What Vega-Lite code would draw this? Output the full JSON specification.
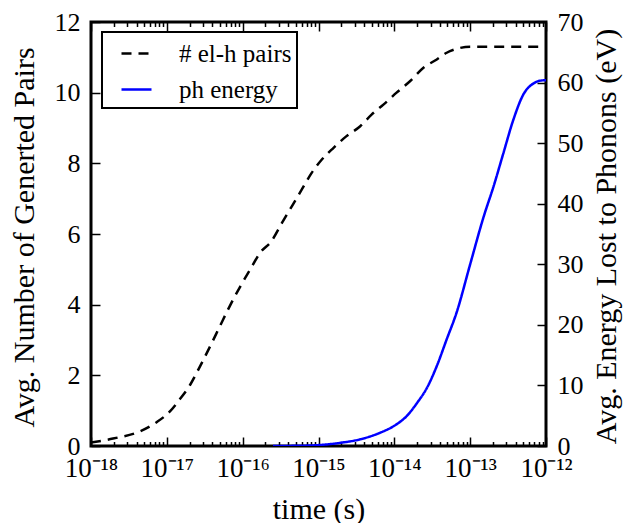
{
  "$schema": "https://vega.github.io/schema/vega-lite/v6.json",
  "width": 455,
  "height": 424,
  "autosize": {"type": "none"},
  "padding": {"left": 91, "top": 22, "right": 80, "bottom": 77},
  "background": "white",
  "config": {
    "view": {"stroke": "black", "strokeWidth": 3},
    "font": "Liberation Serif",
    "axis": {
      "domain": false,
      "grid": false,
      "tickColor": "black",
      "tickWidth": 1.5,
      "labelFont": "Liberation Serif",
      "labelFontSize": 26,
      "labelColor": "black",
      "titleFont": "Liberation Serif",
      "titleFontSize": 30,
      "titleFontWeight": "normal",
      "titleColor": "black",
      "labelOverlap": false,
      "labelFlush": false
    },
    "legend": {
      "labelFont": "Liberation Serif",
      "labelFontSize": 24,
      "labelColor": "black"
    }
  },
  "data": {
    "values": [
      {"t": 1e-18, "value": 0.1, "series": "# el-h pairs"},
      {"t": 1.95e-18, "value": 0.21, "series": "# el-h pairs"},
      {"t": 4.47e-18, "value": 0.42, "series": "# el-h pairs"},
      {"t": 7.41e-18, "value": 0.68, "series": "# el-h pairs"},
      {"t": 1.1e-17, "value": 0.98, "series": "# el-h pairs"},
      {"t": 1.48e-17, "value": 1.32, "series": "# el-h pairs"},
      {"t": 2.04e-17, "value": 1.74, "series": "# el-h pairs"},
      {"t": 2.75e-17, "value": 2.26, "series": "# el-h pairs"},
      {"t": 3.72e-17, "value": 2.82, "series": "# el-h pairs"},
      {"t": 5.01e-17, "value": 3.39, "series": "# el-h pairs"},
      {"t": 6.76e-17, "value": 3.96, "series": "# el-h pairs"},
      {"t": 9.33e-17, "value": 4.52, "series": "# el-h pairs"},
      {"t": 1.26e-16, "value": 5.0, "series": "# el-h pairs"},
      {"t": 1.7e-16, "value": 5.47, "series": "# el-h pairs"},
      {"t": 2.4e-16, "value": 5.8, "series": "# el-h pairs"},
      {"t": 3.31e-16, "value": 6.32, "series": "# el-h pairs"},
      {"t": 4.47e-16, "value": 6.79, "series": "# el-h pairs"},
      {"t": 6.03e-16, "value": 7.26, "series": "# el-h pairs"},
      {"t": 8.13e-16, "value": 7.73, "series": "# el-h pairs"},
      {"t": 1.1e-15, "value": 8.1, "series": "# el-h pairs"},
      {"t": 1.58e-15, "value": 8.44, "series": "# el-h pairs"},
      {"t": 2.34e-15, "value": 8.77, "series": "# el-h pairs"},
      {"t": 3.55e-15, "value": 9.05, "series": "# el-h pairs"},
      {"t": 5.01e-15, "value": 9.38, "series": "# el-h pairs"},
      {"t": 7.24e-15, "value": 9.67, "series": "# el-h pairs"},
      {"t": 1.07e-14, "value": 10.0, "series": "# el-h pairs"},
      {"t": 1.62e-14, "value": 10.33, "series": "# el-h pairs"},
      {"t": 2.4e-14, "value": 10.7, "series": "# el-h pairs"},
      {"t": 3.63e-14, "value": 10.94, "series": "# el-h pairs"},
      {"t": 4.9e-14, "value": 11.13, "series": "# el-h pairs"},
      {"t": 6.61e-14, "value": 11.24, "series": "# el-h pairs"},
      {"t": 1e-13, "value": 11.3, "series": "# el-h pairs"},
      {"t": 3.16e-13, "value": 11.3, "series": "# el-h pairs"},
      {"t": 1e-12, "value": 11.3, "series": "# el-h pairs"},
      {"t": 2.51e-16, "value": 0, "series": "ph energy"},
      {"t": 6.31e-16, "value": 0.05, "series": "ph energy"},
      {"t": 1.12e-15, "value": 0.2, "series": "ph energy"},
      {"t": 1.95e-15, "value": 0.53, "series": "ph energy"},
      {"t": 3.55e-15, "value": 1.1, "series": "ph energy"},
      {"t": 6.46e-15, "value": 2.18, "series": "ph energy"},
      {"t": 9.77e-15, "value": 3.27, "series": "ph energy"},
      {"t": 1.45e-14, "value": 4.92, "series": "ph energy"},
      {"t": 2.0e-14, "value": 7.13, "series": "ph energy"},
      {"t": 2.69e-14, "value": 9.6, "series": "ph energy"},
      {"t": 3.63e-14, "value": 13.2, "series": "ph energy"},
      {"t": 4.9e-14, "value": 17.6, "series": "ph energy"},
      {"t": 6.61e-14, "value": 22.0, "series": "ph energy"},
      {"t": 1e-13, "value": 30.0, "series": "ph energy"},
      {"t": 1.51e-13, "value": 37.9, "series": "ph energy"},
      {"t": 2.04e-13, "value": 42.9, "series": "ph energy"},
      {"t": 2.75e-13, "value": 48.4, "series": "ph energy"},
      {"t": 3.72e-13, "value": 53.9, "series": "ph energy"},
      {"t": 5.01e-13, "value": 58.0, "series": "ph energy"},
      {"t": 6.92e-13, "value": 59.9, "series": "ph energy"},
      {"t": 8.32e-13, "value": 60.3, "series": "ph energy"},
      {"t": 1e-12, "value": 60.4, "series": "ph energy"}
    ]
  },
  "encoding": {
    "color": {
      "field": "series",
      "type": "nominal",
      "scale": {"domain": ["# el-h pairs", "ph energy"], "range": ["black", "#0000ff"]},
      "legend": {
        "orient": "none",
        "legendX": 11,
        "legendY": 10,
        "title": null,
        "symbolType": "stroke",
        "symbolSize": 900,
        "symbolStrokeWidth": 2.5,
        "symbolOffset": 13,
        "labelOffset": 26,
        "padding": 5,
        "rowPadding": 6,
        "strokeColor": "black",
        "fillColor": "white",
        "cornerRadius": 0,
        "labelFontSize": 25,
        "labelFont": "Liberation Serif",
        "encode": {"legend": {"update": {"strokeWidth": {"value": 2}}}}
      }
    },
    "strokeDash": {
      "field": "series",
      "type": "nominal",
      "scale": {"domain": ["# el-h pairs", "ph energy"], "range": [[10, 7], [1, 0]]},
      "legend": {
        "orient": "none",
        "legendX": 11,
        "legendY": 10,
        "title": null,
        "symbolType": "stroke",
        "symbolSize": 900,
        "symbolStrokeWidth": 2.5,
        "symbolOffset": 13,
        "labelOffset": 26,
        "padding": 5,
        "rowPadding": 6,
        "strokeColor": "black",
        "fillColor": "white",
        "cornerRadius": 0,
        "labelFontSize": 25,
        "labelFont": "Liberation Serif",
        "encode": {"legend": {"update": {"strokeWidth": {"value": 2}}}}
      }
    }
  },
  "layer": [
    {
      "transform": [{"filter": "datum.series === '# el-h pairs'"}],
      "mark": {"type": "line", "strokeWidth": 2.5, "interpolate": "monotone", "clip": true},
      "encoding": {
        "x": {
          "field": "t",
          "type": "quantitative",
          "scale": {"type": "log", "domain": [1e-18, 1e-12], "nice": false},
          "axis": {
            "orient": "bottom",
            "title": "time (s)",
            "titleY": 72,
            "titleBaseline": "alphabetic",
            "values": [1e-18,2e-18,3e-18,4e-18,5e-18,6e-18,7e-18,8e-18,9e-18,1e-17,2e-17,3e-17,4e-17,5e-17,6e-17,7e-17,8e-17,9e-17,1e-16,2e-16,3e-16,4e-16,5e-16,6e-16,7e-16,8e-16,9e-16,1e-15,2e-15,3e-15,4e-15,5e-15,6e-15,7e-15,8e-15,9e-15,1e-14,2e-14,3e-14,4e-14,5e-14,6e-14,7e-14,8e-14,9e-14,1e-13,2e-13,3e-13,4e-13,5e-13,6e-13,7e-13,8e-13,9e-13,1e-12],
            "tickSize": {"condition": {"test": "abs(log(datum.value)/LN10 - round(log(datum.value)/LN10)) < 0.01", "value": -9}, "value": -4.5},
            "labelPadding": 18,
            "labelFontSize": 27,
            "labelExpr": "abs(log(datum.value)/LN10 - round(log(datum.value)/LN10)) > 0.01 ? '' : '10' + ['⁻¹⁸','⁻¹⁷','⁻¹⁶','⁻¹⁵','⁻¹⁴','⁻¹³','⁻¹²'][round(log(datum.value)/LN10) + 18]"
          }
        },
        "y": {
          "field": "value",
          "type": "quantitative",
          "scale": {"domain": [0, 12], "nice": false},
          "axis": {
            "orient": "left",
            "title": "Avg. Number of Generted Pairs",
            "titleAngle": 270,
            "titleX": -67,
            "titleY": 215,
            "titleBaseline": "middle",
            "values": [0, 2, 4, 6, 8, 10, 12],
            "tickSize": -9,
            "labelPadding": 20
          }
        }
      }
    },
    {
      "transform": [{"filter": "datum.series === 'ph energy'"}],
      "mark": {"type": "line", "strokeWidth": 2.5, "interpolate": "monotone", "clip": true},
      "encoding": {
        "x": {
          "field": "t",
          "type": "quantitative",
          "scale": {"type": "log", "domain": [1e-18, 1e-12], "nice": false},
          "axis": {
            "orient": "top",
            "title": null,
            "labels": false,
            "values": [1e-18,2e-18,3e-18,4e-18,5e-18,6e-18,7e-18,8e-18,9e-18,1e-17,2e-17,3e-17,4e-17,5e-17,6e-17,7e-17,8e-17,9e-17,1e-16,2e-16,3e-16,4e-16,5e-16,6e-16,7e-16,8e-16,9e-16,1e-15,2e-15,3e-15,4e-15,5e-15,6e-15,7e-15,8e-15,9e-15,1e-14,2e-14,3e-14,4e-14,5e-14,6e-14,7e-14,8e-14,9e-14,1e-13,2e-13,3e-13,4e-13,5e-13,6e-13,7e-13,8e-13,9e-13,1e-12],
            "tickSize": {"condition": {"test": "abs(log(datum.value)/LN10 - round(log(datum.value)/LN10)) < 0.01", "value": -9}, "value": -4.5}
          }
        },
        "y": {
          "field": "value",
          "type": "quantitative",
          "scale": {"domain": [0, 70], "nice": false},
          "axis": {
            "orient": "right",
            "title": "Avg. Energy Lost to Phonons (eV)",
            "titleAngle": 270,
            "titleX": 60,
            "titleY": 214,
            "titleBaseline": "middle",
            "values": [0, 10, 20, 30, 40, 50, 60, 70],
            "tickSize": -9,
            "labelPadding": 20
          }
        }
      }
    }
  ],
  "resolve": {"scale": {"y": "independent"}, "axis": {"x": "independent"}}
}
